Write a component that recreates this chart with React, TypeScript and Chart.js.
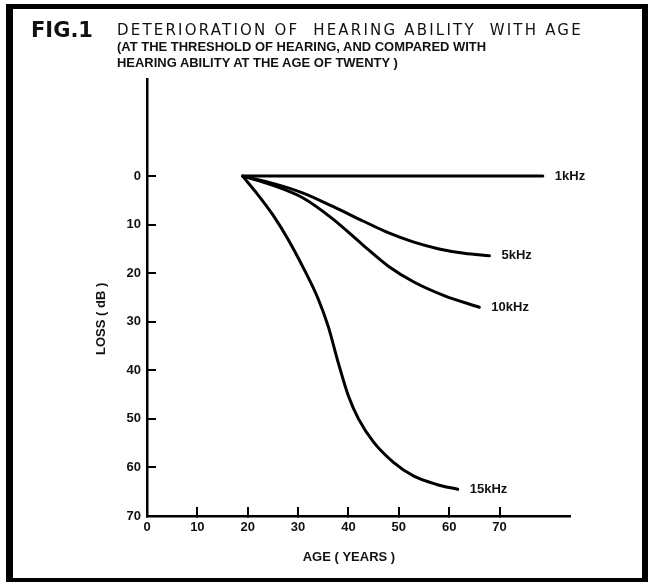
import React, { useEffect, useRef } from 'react';
import { Chart, registerables } from 'chart.js';

Chart.register(...registerables);

// ---- data ----
const seriesLabels = ['1kHz', '5kHz', '10kHz', '15kHz'];

const ages1k = [19, 78.6];
const loss1k = [0, 0];

const ages5k = [19, 25, 31, 37, 43, 48, 53, 58, 63, 68];
const loss5k = [0, 1.5, 3.5, 6.3, 9.3, 11.7, 13.6, 15, 15.9, 16.4];

const ages10k = [19, 25, 31, 37, 43, 48, 53, 59, 66];
const loss10k = [0, 1.9, 4.5, 8.9, 14.3, 18.6, 21.8, 24.6, 27];

const ages15k = [19, 22, 25, 28, 31, 34, 36, 38, 40, 42, 45, 49, 53, 57.5, 61.7];
const loss15k = [0, 3.8, 8, 13, 18.8, 25.3, 31, 38.5, 45.3, 50, 54.8, 59, 61.8, 63.5, 64.5];

const xTicks = [0, 10, 20, 30, 40, 50, 60, 70];
const yTicks = [0, 10, 20, 30, 40, 50, 60, 70];

const xTitle = 'AGE ( YEARS )';
const yTitle = 'LOSS ( dB )';

const LABEL_FONT = '"Liberation Sans", Arial, sans-serif';

const toPoints = (xs: number[], ys: number[]) => xs.map((x, i) => ({ x, y: ys[i] }));

const annotatePlugin = {
  id: 'annotate',
  afterDatasetsDraw(chart: any) {
    const ctx = chart.ctx as CanvasRenderingContext2D;
    ctx.save();
    ctx.fillStyle = '#111';
    ctx.font = `bold 13px ${LABEL_FONT}`;
    ctx.textBaseline = 'middle';
    ctx.textAlign = 'left';
    chart.data.datasets.forEach((ds: any, i: number) => {
      const meta = chart.getDatasetMeta(i);
      const last = meta.data[meta.data.length - 1];
      if (last) ctx.fillText(ds.label, last.x + 12, last.y);
    });
    const { left, bottom } = chart.chartArea;
    ctx.textAlign = 'center';
    ctx.fillText(xTitle, chart.scales.x.getPixelForValue(40.1), bottom + 41);
    ctx.translate(left - 46, chart.scales.y.getPixelForValue(29.4));
    ctx.rotate(-Math.PI / 2);
    ctx.fillText(yTitle, 0, 0);
    ctx.restore();
  },
};

export default function App() {
  const canvasRef = useRef<HTMLCanvasElement | null>(null);

  useEffect(() => {
    if (!canvasRef.current) return;
    const lineStyle = {
      borderColor: '#000',
      borderWidth: 3,
      pointRadius: 0,
      fill: false,
      cubicInterpolationMode: 'monotone' as const,
      borderCapStyle: 'round' as const,
      borderJoinStyle: 'round' as const,
    };
    const tickFont = { family: LABEL_FONT, weight: 'bold' as const, size: 13 };
    const chart = new Chart(canvasRef.current, {
      type: 'line',
      data: {
        datasets: [
          { label: seriesLabels[0], data: toPoints(ages1k, loss1k), ...lineStyle },
          { label: seriesLabels[1], data: toPoints(ages5k, loss5k), ...lineStyle },
          { label: seriesLabels[2], data: toPoints(ages10k, loss10k), ...lineStyle },
          { label: seriesLabels[3], data: toPoints(ages15k, loss15k), ...lineStyle },
        ],
      },
      options: {
        responsive: false,
        animation: false,
        layout: { padding: { left: 0, right: 83, top: 79, bottom: 0 } },
        plugins: { legend: { display: false }, tooltip: { enabled: false } },
        scales: {
          x: {
            type: 'linear',
            min: 0,
            max: 84,
            afterBuildTicks: (s: any) => {
              s.ticks = xTicks.map((v) => ({ value: v }));
            },
            afterFit: (s: any) => {
              s.height = 66;
            },
            grid: { drawOnChartArea: false, drawTicks: true, tickLength: -9, color: '#000', lineWidth: 2 },
            border: { color: '#000', width: 2.5 },
            ticks: { color: '#111', font: tickFont, padding: 13, maxRotation: 0, autoSkip: false },
          },
          y: {
            type: 'linear',
            reverse: true,
            min: -20,
            max: 70,
            afterBuildTicks: (s: any) => {
              s.ticks = yTicks.map((v) => ({ value: v }));
            },
            afterFit: (s: any) => {
              s.width = 147;
            },
            grid: { drawOnChartArea: false, drawTicks: true, tickLength: -9, color: '#000', lineWidth: 2 },
            border: { color: '#000', width: 2.5 },
            ticks: { color: '#111', font: tickFont, padding: 15, autoSkip: false },
          },
        },
      },
      plugins: [annotatePlugin],
    });
    return () => chart.destroy();
  }, []);

  const page: React.CSSProperties = {
    position: 'absolute',
    left: 0,
    top: 0,
    width: 653,
    height: 582,
    background: '#fff',
    overflow: 'hidden',
  };

  return (
    <div style={page}>
      <div
        style={{
          position: 'absolute',
          left: 6,
          top: 4,
          width: 642,
          height: 578,
          boxSizing: 'border-box',
          borderStyle: 'solid',
          borderColor: '#000',
          borderWidth: '5px 6px 4px 7px',
        }}
      />
      <canvas ref={canvasRef} width={653} height={582} style={{ position: 'absolute', left: 0, top: 0 }} />
      <div
        style={{
          position: 'absolute',
          left: 31,
          top: 18,
          font: 'bold 21px "DejaVu Sans", sans-serif',
          color: '#111',
          lineHeight: '24px',
          whiteSpace: 'nowrap',
        }}
      >
        FIG.1
      </div>
      <div
        style={{
          position: 'absolute',
          left: 117,
          top: 21,
          font: '15px "DejaVu Sans", sans-serif',
          letterSpacing: '2.2px',
          color: '#111',
          lineHeight: '18px',
          whiteSpace: 'nowrap',
        }}
      >
        DETERIORATION OF&nbsp; HEARING ABILITY&nbsp; WITH AGE
      </div>
      <div
        style={{
          position: 'absolute',
          left: 117,
          top: 39,
          font: `bold 13.5px ${LABEL_FONT}`,
          color: '#111',
          lineHeight: '16px',
          whiteSpace: 'pre',
          transformOrigin: 'left top',
          transform: 'scaleX(0.96)',
        }}
      >
        {'(AT THE THRESHOLD OF HEARING, AND COMPARED WITH\nHEARING ABILITY AT THE AGE OF TWENTY )'}
      </div>
    </div>
  );
}
